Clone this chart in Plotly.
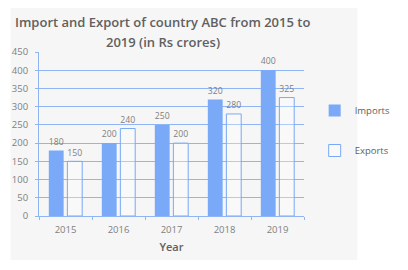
import plotly.graph_objects as go

years = ["2015", "2016", "2017", "2018", "2019"]
imports = [180, 200, 250, 320, 400]
exports = [150, 240, 200, 280, 325]
y_ticks = [0, 50, 100, 150, 200, 250, 300, 350, 400, 450]
title_lines = ["Import and Export of country ABC from 2015 to", "2019 (in Rs crores)"]

blue = "#79a9f7"
grid = "#8fb5f5"
txt = "#808080"
dark = "#606060"
font = "Open Sans"

fig = go.Figure()
fig.add_trace(go.Bar(x=years, y=imports, name="Imports", legendgroup="imp",
                     marker=dict(color=blue, line=dict(width=0)),
                     text=imports, textposition="outside",
                     textfont=dict(size=9.5, color=txt, family=font), cliponaxis=False))
fig.add_trace(go.Bar(x=years, y=exports, name="Exports", legendgroup="exp",
                     marker=dict(color="rgba(255,255,255,0.3)", line=dict(color=blue, width=1)),
                     text=exports, textposition="outside",
                     textfont=dict(size=9.5, color=txt, family=font), cliponaxis=False))

W, H = 408, 270
L, R, T, B = 36, 74, 52, 54
pw, ph = W - L - R, H - T - B
def px_x(p): return (p - L) / pw
def px_y(p): return (H - B - p) / ph

fig.add_shape(type="rect", xref="paper", yref="paper",
              x0=px_x(4), x1=px_x(394), y0=px_y(260), y1=px_y(8),
              fillcolor="#f6f6f6", line=dict(width=0), layer="below")

for line, ypx in zip(title_lines, [22, 42]):
    fig.add_annotation(text=line, xref="paper", yref="paper", x=px_x(175), y=px_y(ypx),
                       xanchor="center", yanchor="middle", showarrow=False,
                       font=dict(family=font, size=13, color=dark, weight=600))

fig.update_layout(
    width=W, height=H,
    margin=dict(l=L, r=R, t=T, b=B),
    paper_bgcolor="white", plot_bgcolor="rgba(0,0,0,0)",
    barmode="group", bargap=0.3, bargroupgap=0.2,
    font=dict(family=font, color=txt, size=9.5),
    showlegend=True,
    legend=dict(x=px_x(346), y=px_y(96), xanchor="left", yanchor="top",
                bgcolor="rgba(0,0,0,0)", font=dict(size=9.5, color=dark, family=font),
                tracegroupgap=21, itemwidth=30),
    xaxis=dict(title=dict(text="Year", font=dict(size=11, color=dark, family=font, weight=600), standoff=7),
               showline=True, linecolor=grid, linewidth=1,
               ticks="outside", ticklen=3, tickcolor=grid, tickson="boundaries",
               ticklabelstandoff=5,
               tickfont=dict(size=9.5, color=txt)),
    yaxis=dict(range=[0, 450], tickvals=y_ticks, showgrid=True, gridcolor=grid, gridwidth=1,
               showline=True, linecolor=grid, linewidth=1,
               ticks="outside", ticklen=3, tickcolor=grid, zeroline=False,
               ticklabelstandoff=5,
               tickfont=dict(size=9.5, color=txt)),
)
fig.write_html("out.html")
